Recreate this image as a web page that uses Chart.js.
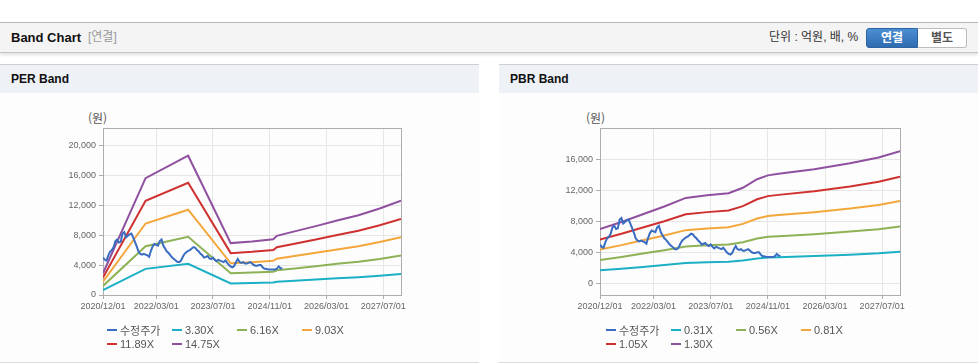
<!DOCTYPE html>
<html lang="ko">
<head>
<meta charset="utf-8">
<title>Band Chart</title>
<script src="https://cdn.jsdelivr.net/npm/chart.js@4.4.1/dist/chart.umd.min.js"></script>
<style>
  body { margin: 0; width: 978px; height: 364px; background: #fff; position: relative; overflow: hidden;
         font-family: "Liberation Sans", "Noto Sans CJK KR", sans-serif; }
  .head { position: absolute; left: 0; top: 22px; width: 978px; height: 29px; background: #f4f4f4;
          border-top: 1px solid #b8b8b8; border-bottom: 1px solid #c4c4c4; box-shadow: 0 2px 3px rgba(0,0,0,0.12); }
  .head .title { position: absolute; left: 11px; top: 0; line-height: 29px; font-size: 13px; font-weight: bold; color: #111; }
  .head .sub { position: absolute; left: 88px; top: 0; line-height: 29px; font-size: 12px; color: #999; }
  .head .unit { position: absolute; left: 769px; top: 0; line-height: 29px; font-size: 12px; color: #333; }
  .btn { position: absolute; top: 5px; height: 18px; line-height: 18px; font-size: 12px; font-weight: bold; text-align: center; }
  .btn.on { left: 866px; width: 50px; color: #fff; background: linear-gradient(#4b8ed3, #2f6cb0);
            border: 1px solid #2c64a3; border-radius: 3px 0 0 3px; }
  .btn.off { left: 918px; width: 48px; color: #555; background: #fff; border: 1px solid #bcbcbc; border-left: none;
             border-radius: 0 3px 3px 0; }
  .panel { position: absolute; top: 64px; width: 479px; height: 297px; background: #fdfdfd;
           border-top: 1px solid #cfcfcf; border-bottom: 1px solid #ddd; }
  .panel .bar { height: 28px; line-height: 28px; background: #eef2f7; padding-left: 11px;
                font-size: 12px; font-weight: bold; color: #111; }
  .panel canvas { position: absolute; left: 0; top: 28px; }
  .unitlabel { position: absolute; top: 44px; font-size: 12px; color: #555; font-family: "Noto Sans CJK KR", sans-serif; }
  .legend { position: absolute; left: 107px; top: 258px; display: grid; grid-template-columns: repeat(4, 65px);
            grid-auto-rows: 14px; font-size: 11px; color: #555; }
  .legend span { display: flex; align-items: center; white-space: nowrap; }
  .legend i { display: inline-block; width: 10px; height: 2px; margin-right: 3px; }
</style>
</head>
<body>
  <div class="head">
    <span class="title">Band Chart</span>
    <span class="sub">[연결]</span>
    <span class="unit">단위 : 억원, 배, %</span>
    <div class="btn on">연결</div>
    <div class="btn off">별도</div>
  </div>

  <div class="panel" style="left:0">
    <div class="bar">PER Band</div>
    <div class="unitlabel" style="left:88px">(원)</div>
    <canvas id="perChart" width="479" height="269"></canvas>
    <div class="legend" id="perLegend"></div>
  </div>

  <div class="panel" style="left:499px">
    <div class="bar">PBR Band</div>
    <div class="unitlabel" style="left:87px">(원)</div>
    <canvas id="pbrChart" width="479" height="269"></canvas>
    <div class="legend" id="pbrLegend"></div>
  </div>

<script>
// x axis labels (shared by both charts)
const xTickLabels = ["2020/12/01", "2022/03/01", "2023/07/01", "2024/11/01", "2026/03/01", "2027/07/01"];
const xEnd = "2027/12";

// adjusted price, semi-monthly from 2020/12
const price = [
  5000, 4700, 4600, 5300, 5800, 6000, 6400, 7200, 7400, 7000, 7100, 8200, 8400, 7700, 7900, 8100,
  8200, 7700, 7100, 6500, 5800, 5500, 5400, 5500, 5400, 5300, 5100, 5900, 6500, 6800, 6700, 6600,
  7200, 7400, 6600, 6200, 5800, 5600, 5300, 5000, 4800, 4600, 4400, 4400, 4600, 5100, 5500, 5700,
  5900, 6000, 6200, 6400, 6300, 6000, 5800, 5500, 5300, 5000, 5100, 5200, 4900, 4800, 5000, 4700,
  4500, 4700, 4600, 4500, 4400, 4600, 4300, 4000, 3800, 3700, 3900, 4400, 4800, 4400, 4300, 4400,
  4200, 4200, 4300, 4400, 4200, 4000, 3900, 3900, 4000, 4000, 3700, 3500, 3500, 3400, 3400, 3400,
  3400, 3400, 3500, 3800, 3600, 3500
];

// PER band
const perDates = ["2020/12", "2021/12", "2022/12", "2023/12", "2024/06", "2024/12", "2025/01",
                  "2025/06", "2025/12", "2026/06", "2026/12", "2027/06", "2027/12"];
const per330 = [650, 3490, 4160, 1550, 1600, 1670, 1770, 1900, 2060, 2230, 2380, 2580, 2820];
const per616 = [1210, 6520, 7770, 2890, 2990, 3110, 3300, 3550, 3840, 4160, 4450, 4820, 5260];
const per903 = [1780, 9550, 11390, 4240, 4380, 4560, 4840, 5200, 5630, 6090, 6520, 7070, 7710];
const per1189 = [2340, 12580, 14990, 5590, 5760, 6010, 6370, 6850, 7420, 8020, 8590, 9310, 10160];
const per1475 = [2900, 15600, 18600, 6930, 7150, 7450, 7900, 8500, 9200, 9950, 10650, 11550, 12600];
const perLabels = ["3.30X", "6.16X", "9.03X", "11.89X", "14.75X"];
const perYTicks = [0, 4000, 8000, 12000, 16000, 20000];

// PBR band
const pbrDates = ["2020/12", "2021/06", "2021/12", "2022/06", "2022/12", "2023/06", "2023/12", "2024/04",
                  "2024/08", "2024/11", "2025/02", "2025/12", "2026/10", "2027/06", "2027/12"];
const pbr031 = [1670, 1880, 2120, 2360, 2620, 2710, 2770, 2930, 3200, 3320, 3360, 3510, 3690, 3860, 4060];
const pbr056 = [3020, 3400, 3830, 4270, 4740, 4890, 5000, 5300, 5770, 5990, 6070, 6330, 6660, 6980, 7320];
const pbr081 = [4360, 4920, 5550, 6170, 6850, 7070, 7230, 7660, 8350, 8660, 8790, 9160, 9630, 10090, 10590];
const pbr105 = [5650, 6380, 7190, 8000, 8890, 9170, 9370, 9940, 10820, 11230, 11390, 11870, 12480, 13090, 13730];
const pbr130 = [7000, 7900, 8900, 9900, 11000, 11350, 11600, 12300, 13400, 13900, 14100, 14700, 15450, 16200, 17000];
const pbrLabels = ["0.31X", "0.56X", "0.81X", "1.05X", "1.30X"];
const pbrYTicks = [0, 4000, 8000, 12000, 16000];

const priceColor = "#3a6cc2";
const bandColors = ["#1bb0c6", "#8db255", "#f3a73b", "#cf3030", "#8f509f"];
const tickFont = { family: "'Liberation Sans', sans-serif", size: 9 };

// months counted from 2020/12
function monthIndex(d) {
  const [y, m] = d.split("/").map(Number);
  return (y - 2020) * 12 + (m - 12);
}

// draw the box round the plot area
const frame = {
  id: "frame",
  beforeDatasetsDraw(chart) {
    const { ctx, chartArea: a } = chart;
    ctx.save();
    ctx.strokeStyle = "#adadad";
    ctx.lineWidth = 1;
    ctx.strokeRect(Math.round(a.left) + 0.5, Math.round(a.top) + 0.5,
                   Math.round(a.right - a.left), Math.round(a.bottom - a.top));
    ctx.restore();
  },
};

function makeBandChart(id, dates, bands, labels, yMin, yMax, yTicks, yWidth) {
  const datasets = [
    {
      label: "수정주가",
      data: price.map((v, i) => ({ x: i / 2, y: v })),
      borderColor: priceColor,
    },
  ];
  bands.forEach((vals, k) => {
    datasets.push({
      label: labels[k],
      data: vals.map((v, i) => ({ x: monthIndex(dates[i]), y: v })),
      borderColor: bandColors[k],
    });
  });

  return new Chart(document.getElementById(id), {
    type: "line",
    data: { datasets },
    plugins: [frame],
    options: {
      responsive: false,
      animation: false,
      devicePixelRatio: 1,
      layout: { padding: { left: 0, top: 35, right: 78, bottom: 47 } },
      elements: {
        line: { borderWidth: 2, tension: 0 },
        point: { radius: 0 },
      },
      plugins: { legend: { display: false }, tooltip: { enabled: false } },
      scales: {
        x: {
          type: "linear",
          min: 0,
          max: monthIndex(xEnd),
          afterBuildTicks: (s) => {
            s.ticks = xTickLabels.map((d) => ({ value: monthIndex(d.slice(0, 7)) }));
          },
          afterFit: (s) => { s.height = 20; },
          ticks: {
            callback: (v, i) => xTickLabels[i],
            autoSkip: false,
            maxRotation: 0,
            font: tickFont,
            color: "#666",
            padding: 2,
          },
          grid: { color: "#e6e6e6", tickLength: 4, tickColor: "#adadad" },
          border: { color: "#adadad" },
        },
        y: {
          min: yMin,
          max: yMax,
          afterBuildTicks: (s) => {
            s.ticks = yTicks.map((v) => ({ value: v }));
          },
          afterFit: (s) => { s.width = yWidth; },
          ticks: {
            callback: (v) => v.toLocaleString("en-US"),
            font: tickFont,
            color: "#666",
            padding: 3,
          },
          grid: { color: "#e6e6e6", tickLength: 4, tickColor: "#adadad" },
          border: { color: "#adadad" },
        },
      },
    },
  });
}

function makeLegend(id, labels) {
  const box = document.getElementById(id);
  const names = ["수정주가"].concat(labels);
  const colors = [priceColor].concat(bandColors);
  names.forEach((n, i) => {
    const item = document.createElement("span");
    item.innerHTML = '<i style="background:' + colors[i] + '"></i>' + n;
    box.appendChild(item);
  });
}

makeBandChart("perChart", perDates, [per330, per616, per903, per1189, per1475], perLabels, 0, 22300, perYTicks, 103);
makeBandChart("pbrChart", pbrDates, [pbr031, pbr056, pbr081, pbr105, pbr130], pbrLabels, -1500, 20000, pbrYTicks, 101);
makeLegend("perLegend", perLabels);
makeLegend("pbrLegend", pbrLabels);
</script>
</body>
</html>
